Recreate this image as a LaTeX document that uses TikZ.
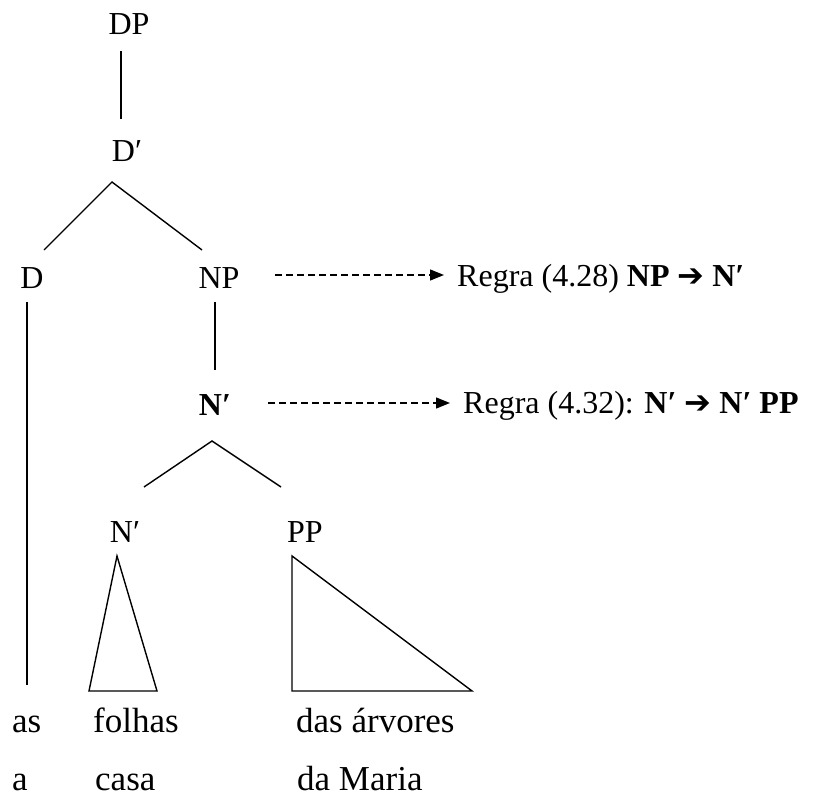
\documentclass[tikz,border=0pt]{standalone}
\usepackage{fontspec}
\setmainfont{Liberation Serif}
\newfontfamily\arrowfont{DejaVu Sans}
\usetikzlibrary{arrows.meta}
\begin{document}
\begin{tikzpicture}[x=1pt,y=-1pt,
  lab/.style={inner sep=0pt,anchor=base,font=\fontsize{32}{36}\selectfont},
  leaf/.style={inner sep=0pt,anchor=base west,font=\fontsize{35}{38}\selectfont},
  rule/.style={inner sep=0pt,anchor=base west,font=\fontsize{32}{36}\selectfont},
  branch/.style={line width=1.4pt},
  dasharrow/.style={line width=1.3pt,dash pattern=on 7pt off 4pt,-{Triangle[length=14pt,width=11pt]}}]
\useasboundingbox (0,0) rectangle (824,799);
% tree labels
\node[lab] (DP) at (129,35) {DP};
\node[lab] (Dbar) at (127,162) {D′};
\node[lab] (D) at (32,289) {D};
\node[lab] (NP) at (219,289) {NP};
\node[lab] (Nbar) at (215,415) {\bfseries N′};
\node[lab] (Nbar2) at (125,542) {N′};
\node[lab] (PP) at (305,542) {PP};
% joints
\coordinate (dp-b) at (121,51);
\coordinate (db-t) at (121,119);
\coordinate (db-a) at (112,182);
\coordinate (d-t) at (44,250);
\coordinate (np-t) at (202,250);
\coordinate (d-b) at (27,302);
\coordinate (as-t) at (27,685);
\coordinate (np-b) at (215,302);
\coordinate (nb-t) at (215,370);
\coordinate (nb-a) at (212,441);
\coordinate (nb2-t) at (144,487);
\coordinate (pp-t) at (281,487);
\draw[branch] (dp-b) -- (db-t);
\draw[branch] (d-t) -- (db-a) -- (np-t);
\draw[branch] (d-b) -- (as-t);
\draw[branch] (np-b) -- (nb-t);
\draw[branch] (nb2-t) -- (nb-a) -- (pp-t);
% triangles
\draw[branch,line join=miter] (117,556) -- (157,691) -- (89,691) -- cycle;
\draw[branch,line join=miter] (292,556) -- (472,691) -- (292,691) -- cycle;
% leaves
\node[leaf] (as) at (12,732) {as};
\node[leaf] (folhas) at (93,732) {folhas};
\node[leaf] (das) at (296,732) {das árvores};
\node[leaf] (a) at (12,790) {a};
\node[leaf] (casa) at (95,790) {casa};
\node[leaf] (da) at (297,790) {da Maria};
% rules
\node[rule] (r1) at (457,287) {Regra (4.28) \textbf{NP {\arrowfont ➔} N′}};
\node[rule] (r2) at (463,413) {Regra (4.32): \textbf{N′ {\arrowfont ➔} N′ PP}};
\coordinate (a1s) at (275,275);
\coordinate (a1e) at (444,275);
\coordinate (a2s) at (268,403);
\coordinate (a2e) at (450,403);
\draw[dasharrow] (a1s) -- (a1e);
\draw[dasharrow] (a2s) -- (a2e);
\end{tikzpicture}
\end{document}
